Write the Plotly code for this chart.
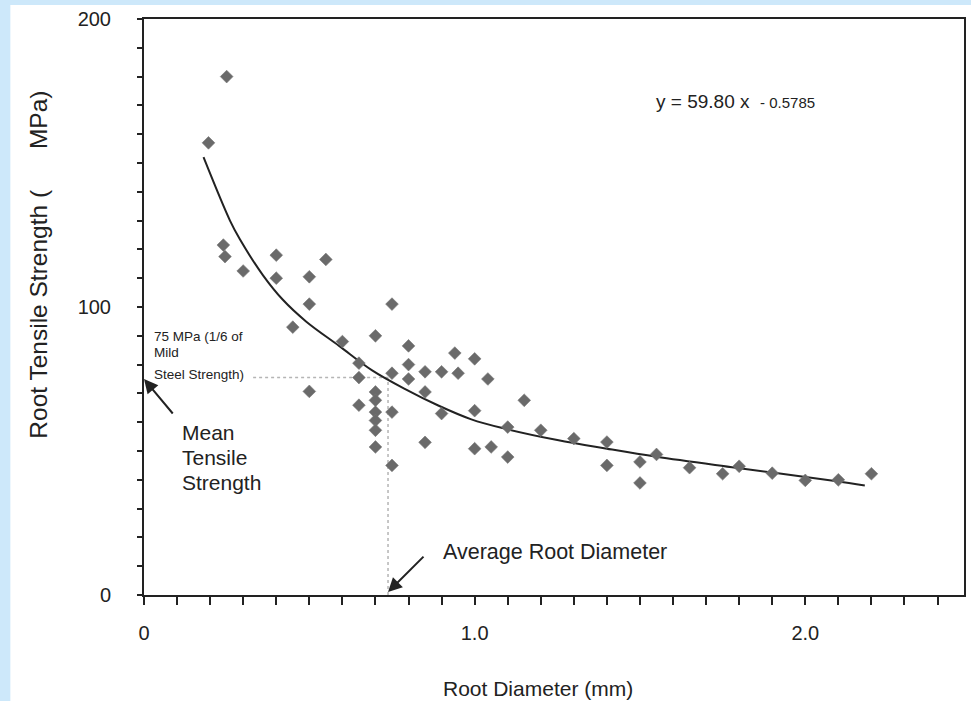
import plotly.graph_objects as go

# Observed data points (root diameter mm, tensile strength MPa)
diameter = [0.25, 0.195, 0.24, 0.245, 0.30, 0.40, 0.40, 0.50, 0.55, 0.50,
            0.45, 0.60, 0.75, 0.70, 0.80, 0.94, 1.00, 0.65, 0.65, 0.75,
            0.80, 0.80, 0.85, 0.90, 0.95, 1.04, 0.50, 0.70, 0.70, 0.65,
            0.75, 0.70, 0.85, 0.70, 0.70, 0.70, 0.75, 0.85, 0.90, 1.00,
            1.15, 1.00, 1.05, 1.10, 1.10, 1.20, 1.30, 1.40, 1.40, 1.50,
            1.50, 1.55, 1.65, 1.75, 1.80, 1.90, 2.00, 2.10, 2.20]
strength = [180, 157, 121.5, 117.5, 112.5, 118, 110, 110.5, 116.5, 101,
            93, 88, 101, 90, 86.5, 84, 82, 80.5, 75.5, 77,
            80, 75, 77.5, 77.5, 77, 75, 70.7, 70.5, 67.6, 65.9,
            63.5, 63.5, 70.5, 60.6, 57.2, 51.4, 45, 53, 63, 64,
            67.6, 50.8, 51.4, 58.3, 47.9, 57.2, 54.3, 53.1, 45, 46.2,
            38.9, 48.8, 44.2, 42.1, 44.7, 42.3, 39.8, 40, 42.1]

# Power trend line as drawn
trend_x = [0.18, 0.26, 0.29, 0.36, 0.42, 0.49, 0.59, 0.69, 0.79, 0.89,
           0.99, 1.09, 1.25, 1.40, 1.55, 1.79, 2.09, 2.18]
trend_y = [152, 130, 123.5, 111, 102.5, 95, 86.5, 78, 71.5, 65.8,
           61, 57.8, 53.8, 50.8, 48, 44.2, 39.6, 38.0]

x_tick_vals = [0, 1, 2]
x_tick_text = ["0", "1.0", "2.0"]
y_tick_vals = [0, 100, 200]
y_tick_text = ["0", "100", "200"]

mean_strength = 75.5
avg_diameter = 0.738

FONT = "Liberation Sans, Arial, sans-serif"
INK = "#222222"

fig = go.Figure()
fig.add_trace(go.Scatter(
    x=trend_x, y=trend_y, mode="lines", line=dict(color=INK, width=2, shape="spline"),
    hoverinfo="skip", showlegend=False))
fig.add_trace(go.Scatter(
    x=diameter, y=strength, mode="markers",
    marker=dict(symbol="diamond", size=9.8, color="#6a6a6a",
                line=dict(color="#777777", width=0.6)),
    showlegend=False))

fig.update_layout(
    width=971, height=701,
    margin=dict(l=144, r=5, t=19, b=106),
    paper_bgcolor="white", plot_bgcolor="white",
    font=dict(family=FONT, color=INK),
    xaxis=dict(range=[0, 2.48], showgrid=False, zeroline=False,
               showline=True, linecolor=INK, linewidth=2, mirror=True,
               tickmode="array", tickvals=x_tick_vals, ticktext=x_tick_text,
               ticks="outside", ticklen=8, tickwidth=2, tickcolor=INK,
               ticklabelstandoff=11, tickfont=dict(size=20, color=INK),
               minor=dict(tickmode="linear", tick0=0, dtick=0.1, ticks="outside",
                          ticklen=8, tickwidth=2, tickcolor=INK)),
    yaxis=dict(range=[0, 200], showgrid=False, zeroline=False,
               showline=True, linecolor=INK, linewidth=2, mirror=True,
               tickmode="array", tickvals=y_tick_vals, ticktext=y_tick_text,
               ticks="outside", ticklen=5, tickwidth=2, tickcolor=INK,
               ticklabelstandoff=22, tickfont=dict(size=20, color=INK),
               minor=dict(tickmode="linear", tick0=0, dtick=10, ticks="outside",
                          ticklen=5, tickwidth=2, tickcolor=INK)),
)

# light-blue page border strips
BLUE = "#cde8fa"
fig.add_shape(type="rect", xref="paper", yref="paper", x0=-0.18, x1=-0.1630,
              y0=-0.19, y1=1.04, fillcolor=BLUE, line_width=0, layer="below")
fig.add_shape(type="rect", xref="paper", yref="paper", x0=-0.18, x1=1.01,
              y0=1.0245, y1=1.04, fillcolor=BLUE, line_width=0, layer="below")

# dotted guide lines
fig.add_shape(type="line", x0=0.33, x1=avg_diameter, y0=mean_strength, y1=mean_strength,
              line=dict(color="#b5b5b5", width=1.5, dash="dot"), layer="below")
fig.add_shape(type="line", x0=avg_diameter, x1=avg_diameter, y0=0, y1=mean_strength,
              line=dict(color="#b5b5b5", width=1.5, dash="dot"), layer="below")

NB = "\u00a0"
ann = []
# axis titles
ann.append(dict(text="Root Tensile Strength (" + NB * 6 + "MPa)", xref="paper", yref="paper",
                x=-0.128, y=0.268, xanchor="center", yanchor="bottom", textangle=-90,
                showarrow=False, font=dict(size=24.5, color=INK)))
ann.append(dict(text="Root Diameter (mm)", xref="paper", yref="paper",
                x=0.48, y=-0.162, xanchor="center", yanchor="middle",
                showarrow=False, font=dict(size=21, color=INK)))
# equation
ann.append(dict(text="y = 59.80 x " + NB + "<span style='font-size:15px'>-" + NB + "0.5785</span>",
                x=1.542, y=171.5, xanchor="left", yanchor="middle",
                showarrow=False, font=dict(size=19, color=INK)))
# 75 MPa note
for txt, yy in [("75 MPa (1/6 of", 89.7), ("Mild", 84.1), ("Steel Strength)", 76.6)]:
    ann.append(dict(text=txt, x=0.023, y=yy, xanchor="left", yanchor="middle",
                    showarrow=False, font=dict(size=13.5, color=INK)))
# Mean tensile strength
for txt, yy in [("Mean", 56.3), ("Tensile", 47.6), ("Strength", 38.9)]:
    ann.append(dict(text=txt, x=0.109, y=yy, xanchor="left", yanchor="middle",
                    showarrow=False, font=dict(size=21, color=INK)))
ann.append(dict(text="", x=0, y=mean_strength - 0.5, ax=30, ay=36, showarrow=True,
                arrowhead=2, arrowsize=1.4, arrowwidth=2, arrowcolor=INK, standoff=0))
# Average root diameter
ann.append(dict(text="Average Root Diameter", x=0.899, y=15.0, xanchor="left",
                yanchor="middle", showarrow=False, font=dict(size=21.5, color=INK)))
ann.append(dict(text="", x=avg_diameter, y=1, ax=37, ay=-37, showarrow=True,
                arrowhead=2, arrowsize=1.4, arrowwidth=2, arrowcolor=INK, standoff=0))
fig.update_layout(annotations=ann)

fig.write_html("out.html", config={"displayModeBar": False},
               post_script="document.body.style.margin='0';document.body.style.overflow='hidden';")
